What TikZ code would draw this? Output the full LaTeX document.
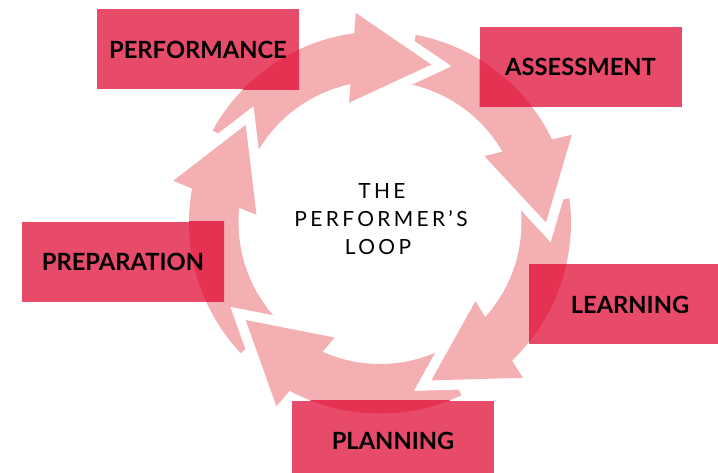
\documentclass[tikz,border=0pt]{standalone}
\usepackage{fontspec}
\setmainfont{Lato}
\newfontfamily\ctrfont{Lato}[LetterSpace=16]
\usetikzlibrary{calc}
\definecolor{arrowpink}{HTML}{F4AFB3}
\definecolor{boxred}{HTML}{E84A6A}
\definecolor{overlapred}{HTML}{E53152}
\begin{document}
\begin{tikzpicture}[x=1pt,y=1pt,
  band/.style={draw=white, line width=20pt, line join=miter},
  lblbox/.style={fill=boxred, minimum width=202pt, minimum height=80pt, inner sep=0pt, outer sep=0pt},
  lbl/.style={font=\bfseries\fontsize{23.7}{28}\selectfont, text=black, inner sep=0pt},
  ctr/.style={font=\ctrfont\fontsize{20.9}{28}\selectfont, text=black, inner sep=0pt, anchor=base}]
\useasboundingbox (0,0) rectangle (718,473);
\clip (0,0) rectangle (718,473);
\coordinate (C) at (380,250.5);
% arrow bodies
\foreach \t in {72,0,-72,-144,-216} {
  \pgfmathsetmacro\ta{\t+79.2}
  \pgfmathsetmacro\tb{\t+24}
  \fill[arrowpink, shift={(C)}] (\ta:191) arc[start angle=\ta, end angle=\tb, radius=191]
     -- (\tb:141.5) arc[start angle=\tb, end angle=\ta, radius=141.5] -- cycle;
}
% arrow heads with white gaps
\foreach \t [count=\k] in {72,0,-72,-144,-216} {
  \pgfmathsetmacro\b{\t+27.5}
  \pgfmathsetmacro\m{\t+13.75}
  \pgfmathsetmacro\mm{\t+193.75}
  \coordinate (T\k) at ($(C)+(\t:166)$);
  \coordinate (B\k) at ($(C)+(\b:167)$);
  \coordinate (Bo\k) at ($(B\k)+(\m:45)$);
  \coordinate (Bi\k) at ($(B\k)+(\mm:45)$);
  \draw[band] (Bo\k) -- (T\k) -- (Bi\k);
  \fill[arrowpink] (Bo\k) -- (T\k) -- (Bi\k) -- cycle;
}
% label boxes
\node[lblbox] (perf) at (198,423.5) {};
\node[lblbox] (assess) at (580.5,406) {};
\node[lblbox] (learn) at (630,168.5) {};
\node[lblbox] (plan) at (393,32) {};
\node[lblbox] (prep) at (123,211) {};
\foreach \n in {perf,assess,learn,plan,prep} {
  \begin{scope}
    \clip (\n.south west) rectangle (\n.north east);
    \fill[overlapred, even odd rule] (C) circle[radius=191] (C) circle[radius=141.5];
  \end{scope}
}
\node[lbl] (perf-t) at (perf) {PERFORMANCE};
\node[lbl] (assess-t) at (assess) {ASSESSMENT};
\node[lbl] (learn-t) at (learn) {LEARNING};
\node[lbl] (plan-t) at (plan) {PLANNING};
\node[lbl] (prep-t) at (prep) {PREPARATION};
% centre title
\node[ctr] (t1) at (382,274.7) {THE};
\node[ctr] (t2) at (381,246.3) {PERFORMER’S};
\node[ctr] (t3) at (378,218.7) {LOOP};
\end{tikzpicture}
\end{document}
